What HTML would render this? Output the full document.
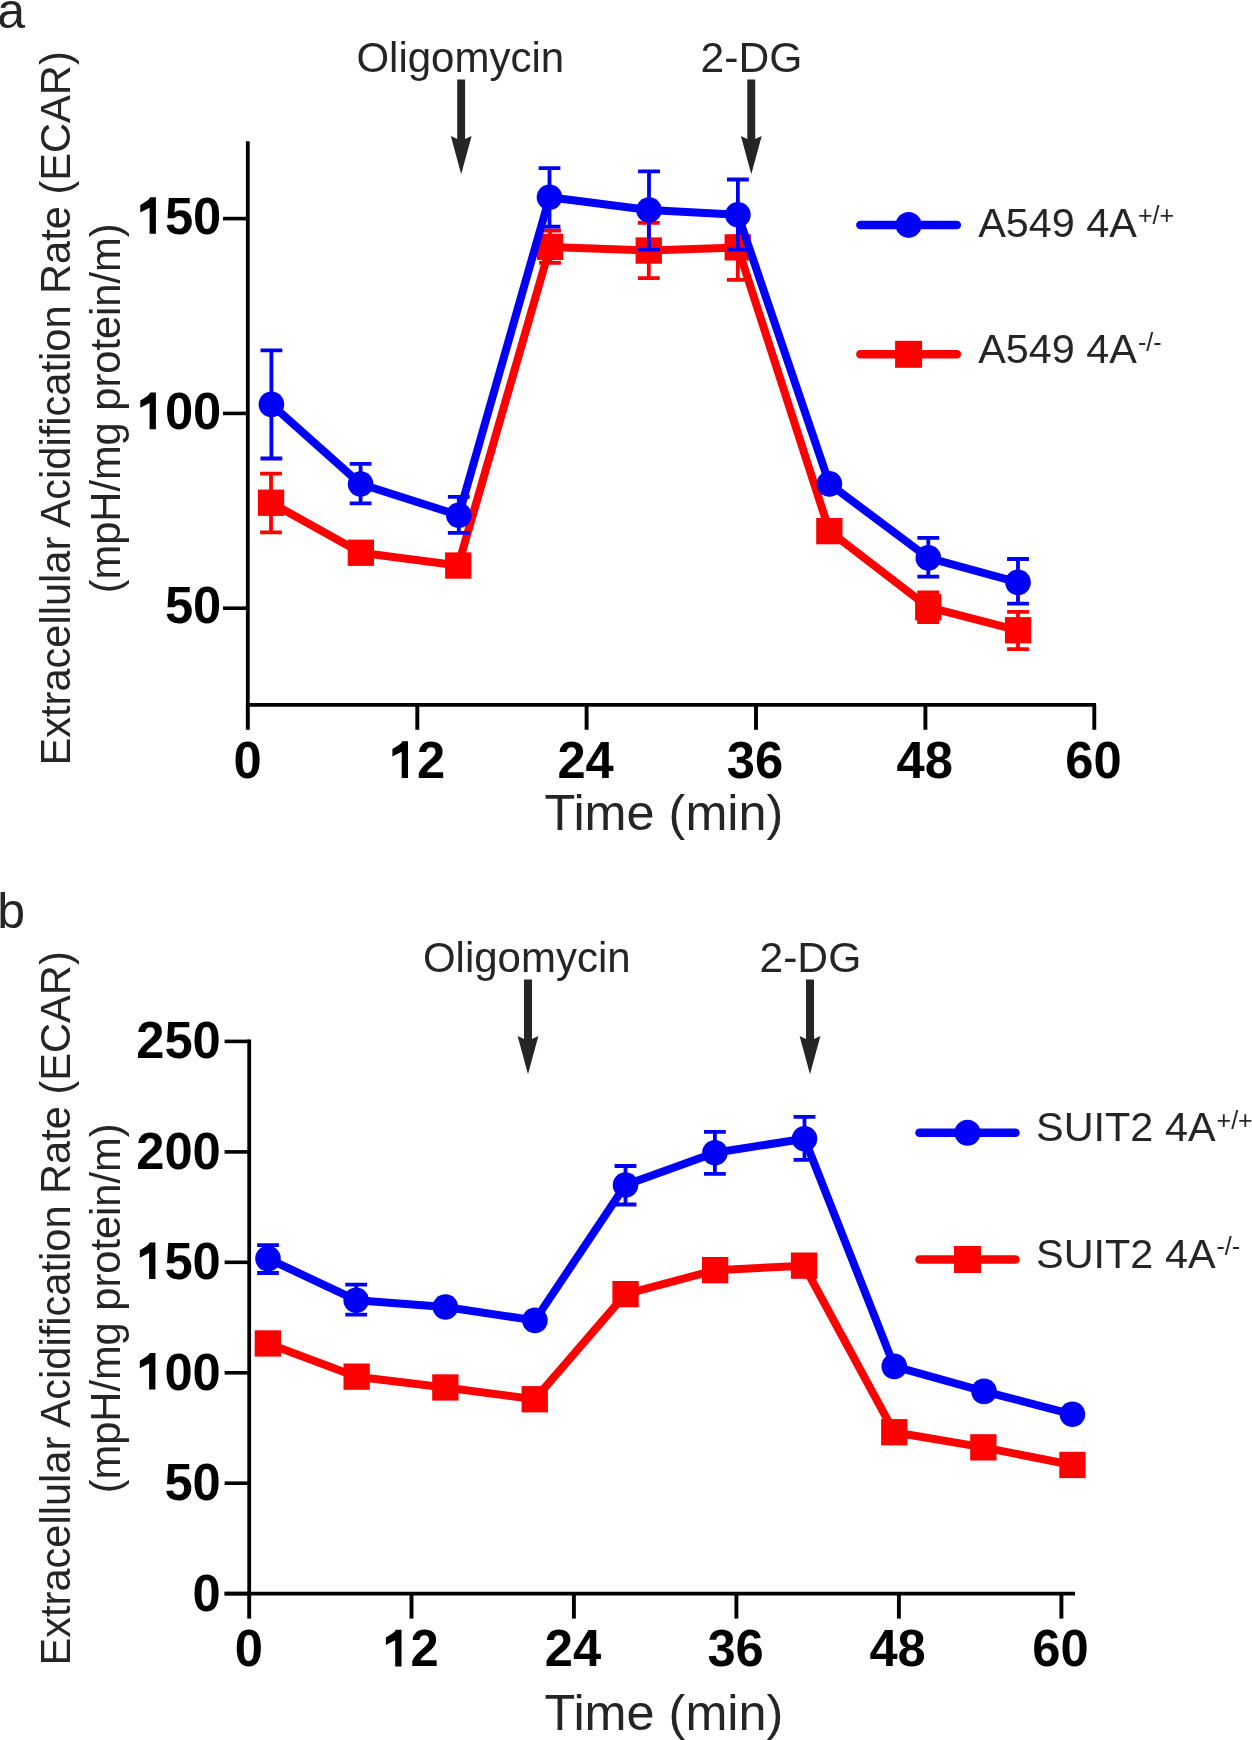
<!DOCTYPE html>
<html><head><meta charset="utf-8"><style>
html,body{margin:0;padding:0;background:#fff;}
svg{display:block;will-change:transform;}
text{font-family:"Liberation Sans", sans-serif;}
</style></head><body>
<svg width="1252" height="1740" viewBox="0 0 1252 1740">
<rect width="1252" height="1740" fill="#fff"/>
<text x="-2.8" y="27.9" font-size="50" fill="#262425">a</text>
<text transform="translate(69.9 408.4) rotate(-90)" font-size="41.6" fill="#262425" text-anchor="middle">Extracellular Acidification Rate (ECAR)</text>
<text transform="translate(119.8 408.4) rotate(-90)" font-size="41.6" fill="#262425" text-anchor="middle">(mpH/mg protein/m)</text>
<text x="356.4" y="71.8" font-size="42" fill="#262425">Oligomycin</text>
<text x="700.6" y="71.7" font-size="42.6" fill="#262425">2-DG</text>
<path d="M457.2 79.4 V138.9 L450.8 135.9 L461.2 174.2 L471.6 135.9 L465.1 138.9 V79.4 Z" fill="#262425"/>
<path d="M747.3 79.4 V138.9 L740.9 135.9 L751.3 174.2 L761.7 135.9 L755.2 138.9 V79.4 Z" fill="#262425"/>
<g stroke="#000" fill="none">
<path d="M247.8 141.2 V706.4" stroke-width="3.8"/>
<path d="M247.8 704.9 H1096" stroke-width="3.7"/>
<path d="M223 218.6 H247.8" stroke-width="3.6"/>
<path d="M223 413.4 H247.8" stroke-width="3.6"/>
<path d="M223 608.2 H247.8" stroke-width="3.6"/>
<path d="M247.8 704.9 V729.8" stroke-width="3.9"/>
<path d="M417.3 704.9 V729.8" stroke-width="3.9"/>
<path d="M586.6 704.9 V729.8" stroke-width="3.9"/>
<path d="M756 704.9 V729.8" stroke-width="3.9"/>
<path d="M925.4 704.9 V729.8" stroke-width="3.9"/>
<path d="M1094.3 704.9 V729.8" stroke-width="3.9"/>
</g>
<polygon points="155.9,233.8 155.9,197.2 150.3,197.2 148.9,199.2 146.8,201 140.3,205 140.3,212.4 149.6,207.7 149.6,233.8" fill="#000"/>
<text transform="translate(164.9 233.8) scale(1 1.02)" font-size="50.7" font-weight="bold" fill="#000">5</text>
<text transform="translate(193.1 233.8) scale(1 1.02)" font-size="50.7" font-weight="bold" fill="#000">0</text>
<polygon points="155.9,429.2 155.9,392.6 150.3,392.6 148.9,394.6 146.8,396.4 140.3,400.4 140.3,407.8 149.6,403.1 149.6,429.2" fill="#000"/>
<text transform="translate(164.9 429.2) scale(1 1.02)" font-size="50.7" font-weight="bold" fill="#000">0</text>
<text transform="translate(193.1 429.2) scale(1 1.02)" font-size="50.7" font-weight="bold" fill="#000">0</text>
<text transform="translate(164.9 622.8) scale(1 1.02)" font-size="50.7" font-weight="bold" fill="#000">5</text>
<text transform="translate(193.1 622.8) scale(1 1.02)" font-size="50.7" font-weight="bold" fill="#000">0</text>
<text transform="translate(233.5 777.9) scale(1 1.02)" font-size="50.7" font-weight="bold" fill="#000">0</text>
<polygon points="408,777.9 408,741.3 402.4,741.3 401,743.3 398.9,745.1 392.4,749.1 392.4,756.5 401.7,751.8 401.7,777.9" fill="#000"/>
<text transform="translate(417 777.9) scale(1 1.02)" font-size="50.7" font-weight="bold" fill="#000">2</text>
<text transform="translate(557.4 777.9) scale(1 1.02)" font-size="50.7" font-weight="bold" fill="#000">2</text>
<text transform="translate(585.6 777.9) scale(1 1.02)" font-size="50.7" font-weight="bold" fill="#000">4</text>
<text transform="translate(726.8 777.9) scale(1 1.02)" font-size="50.7" font-weight="bold" fill="#000">3</text>
<text transform="translate(755 777.9) scale(1 1.02)" font-size="50.7" font-weight="bold" fill="#000">6</text>
<text transform="translate(896.5 777.9) scale(1 1.02)" font-size="50.7" font-weight="bold" fill="#000">4</text>
<text transform="translate(924.7 777.9) scale(1 1.02)" font-size="50.7" font-weight="bold" fill="#000">8</text>
<text transform="translate(1065.2 777.9) scale(1 1.02)" font-size="50.7" font-weight="bold" fill="#000">6</text>
<text transform="translate(1093.4 777.9) scale(1 1.02)" font-size="50.7" font-weight="bold" fill="#000">0</text>
<text x="544.5" y="829.7" font-size="50.4" fill="#262425">Time (min)</text>
<path d="M271 473.7 V532.4 M260.1 473.7 H281.9 M260.1 532.4 H281.9" stroke="#ff0000" stroke-width="3.8" fill="none"/>
<path d="M550 230.5 V262.8 M539.1 230.5 H560.9 M539.1 262.8 H560.9" stroke="#ff0000" stroke-width="3.8" fill="none"/>
<path d="M648.8 222.9 V278.1 M637.9 222.9 H659.7 M637.9 278.1 H659.7" stroke="#ff0000" stroke-width="3.8" fill="none"/>
<path d="M737.8 215 V279.8 M726.9 215 H748.7 M726.9 279.8 H748.7" stroke="#ff0000" stroke-width="3.8" fill="none"/>
<path d="M928.2 592.4 V622 M917.3 592.4 H939.1 M917.3 622 H939.1" stroke="#ff0000" stroke-width="3.8" fill="none"/>
<path d="M1018 611.8 V649.1 M1007.1 611.8 H1028.9 M1007.1 649.1 H1028.9" stroke="#ff0000" stroke-width="3.8" fill="none"/>
<path d="M271 502.7 L360.8 552.7 L458.2 565.5 L550 247 L648.8 250.6 L737.8 247.4 L829.4 531.1 L928.2 607.2 L1018 630.3" stroke="#ff0000" stroke-width="8" fill="none" stroke-linejoin="round"/>
<rect x="257.9" y="489.6" width="26.3" height="26.3" fill="#ff0000"/>
<rect x="347.7" y="539.6" width="26.3" height="26.3" fill="#ff0000"/>
<rect x="445.1" y="552.4" width="26.3" height="26.3" fill="#ff0000"/>
<rect x="536.9" y="233.8" width="26.3" height="26.3" fill="#ff0000"/>
<rect x="635.6" y="237.4" width="26.3" height="26.3" fill="#ff0000"/>
<rect x="724.6" y="234.2" width="26.3" height="26.3" fill="#ff0000"/>
<rect x="816.2" y="518" width="26.3" height="26.3" fill="#ff0000"/>
<rect x="915.1" y="594.1" width="26.3" height="26.3" fill="#ff0000"/>
<rect x="1004.9" y="617.1" width="26.3" height="26.3" fill="#ff0000"/>
<path d="M271.4 350.3 V458.5 M260.5 350.3 H282.3 M260.5 458.5 H282.3" stroke="#0000fa" stroke-width="3.8" fill="none"/>
<path d="M360.6 463.8 V503.3 M349.7 463.8 H371.5 M349.7 503.3 H371.5" stroke="#0000fa" stroke-width="3.8" fill="none"/>
<path d="M458.8 496.8 V532.9 M447.9 496.8 H469.7 M447.9 532.9 H469.7" stroke="#0000fa" stroke-width="3.8" fill="none"/>
<path d="M549.5 168.2 V226.7 M538.6 168.2 H560.4 M538.6 226.7 H560.4" stroke="#0000fa" stroke-width="3.8" fill="none"/>
<path d="M649 171.4 V249.7 M638.1 171.4 H659.9 M638.1 249.7 H659.9" stroke="#0000fa" stroke-width="3.8" fill="none"/>
<path d="M737.9 179.5 V249.6 M727 179.5 H748.8 M727 249.6 H748.8" stroke="#0000fa" stroke-width="3.8" fill="none"/>
<path d="M928.3 537.9 V576.6 M917.4 537.9 H939.2 M917.4 576.6 H939.2" stroke="#0000fa" stroke-width="3.8" fill="none"/>
<path d="M1018 559 V603.6 M1007.1 559 H1028.9 M1007.1 603.6 H1028.9" stroke="#0000fa" stroke-width="3.8" fill="none"/>
<path d="M271.4 404.4 L360.6 484 L458.8 515.3 L549.5 197.3 L649 210 L737.9 214.7 L829.4 483.9 L928.3 557.9 L1018 582.4" stroke="#0000fa" stroke-width="8" fill="none" stroke-linejoin="round"/>
<circle cx="271.4" cy="404.4" r="12.8" fill="#0000fa"/>
<circle cx="360.6" cy="484" r="12.8" fill="#0000fa"/>
<circle cx="458.8" cy="515.3" r="12.8" fill="#0000fa"/>
<circle cx="549.5" cy="197.3" r="12.8" fill="#0000fa"/>
<circle cx="649" cy="210" r="12.8" fill="#0000fa"/>
<circle cx="737.9" cy="214.7" r="12.8" fill="#0000fa"/>
<circle cx="829.4" cy="483.9" r="12.8" fill="#0000fa"/>
<circle cx="928.3" cy="557.9" r="12.8" fill="#0000fa"/>
<circle cx="1018" cy="582.4" r="12.8" fill="#0000fa"/>
<path d="M860.4 224.9 H956.8" stroke="#0000fa" stroke-width="8.5" stroke-linecap="round"/>
<circle cx="908.6" cy="224.9" r="13" fill="#0000fa"/>
<path d="M860.4 354.3 H956.8" stroke="#ff0000" stroke-width="8.5" stroke-linecap="round"/>
<rect x="895.1" y="340.8" width="27" height="27" fill="#ff0000"/>
<text x="978.2" y="236.6" font-size="41.4" fill="#262425">A549 4A<tspan font-size="25" dx="1" dy="-12.5">+/+</tspan></text>
<text x="978.2" y="363.2" font-size="41.4" fill="#262425">A549 4A<tspan font-size="25" dx="1" dy="-12.5">-/-</tspan></text>
<text x="-2.8" y="927.9" font-size="50" fill="#262425">b</text>
<text transform="translate(69.9 1308.4) rotate(-90)" font-size="41.6" fill="#262425" text-anchor="middle">Extracellular Acidification Rate (ECAR)</text>
<text transform="translate(119.8 1308.4) rotate(-90)" font-size="41.6" fill="#262425" text-anchor="middle">(mpH/mg protein/m)</text>
<text x="422.9" y="971.8" font-size="42" fill="#262425">Oligomycin</text>
<text x="759.5" y="971.7" font-size="42.6" fill="#262425">2-DG</text>
<path d="M524 979.4 V1038.9 L517.6 1035.9 L528 1074.2 L538.4 1035.9 L532 1038.9 V979.4 Z" fill="#262425"/>
<path d="M806 979.4 V1038.9 L799.6 1035.9 L810 1074.2 L820.4 1035.9 L814 1038.9 V979.4 Z" fill="#262425"/>
<g stroke="#000" fill="none">
<path d="M249.2 1039.5 V1595.1" stroke-width="3.8"/>
<path d="M224.6 1593.6 H1075" stroke-width="3.7"/>
<path d="M224.6 1041.4 H249.2" stroke-width="3.6"/>
<path d="M224.6 1151.9 H249.2" stroke-width="3.6"/>
<path d="M224.6 1262.3 H249.2" stroke-width="3.6"/>
<path d="M224.6 1372.8 H249.2" stroke-width="3.6"/>
<path d="M224.6 1483.2 H249.2" stroke-width="3.6"/>
<path d="M224.6 1593.6 H249.2" stroke-width="3.6"/>
<path d="M249.2 1593.6 V1618.6" stroke-width="3.9"/>
<path d="M411.5 1593.6 V1618.6" stroke-width="3.9"/>
<path d="M573.9 1593.6 V1618.6" stroke-width="3.9"/>
<path d="M736.4 1593.6 V1618.6" stroke-width="3.9"/>
<path d="M898.9 1593.6 V1618.6" stroke-width="3.9"/>
<path d="M1061.4 1593.6 V1618.6" stroke-width="3.9"/>
</g>
<text transform="translate(136.2 1058) scale(1 1.02)" font-size="50.7" font-weight="bold" fill="#000">2</text>
<text transform="translate(164.4 1058) scale(1 1.02)" font-size="50.7" font-weight="bold" fill="#000">5</text>
<text transform="translate(192.6 1058) scale(1 1.02)" font-size="50.7" font-weight="bold" fill="#000">0</text>
<text transform="translate(136.2 1168.7) scale(1 1.02)" font-size="50.7" font-weight="bold" fill="#000">2</text>
<text transform="translate(164.4 1168.7) scale(1 1.02)" font-size="50.7" font-weight="bold" fill="#000">0</text>
<text transform="translate(192.6 1168.7) scale(1 1.02)" font-size="50.7" font-weight="bold" fill="#000">0</text>
<polygon points="155.4,1279.1 155.4,1242.5 149.8,1242.5 148.4,1244.5 146.3,1246.3 139.8,1250.3 139.8,1257.7 149.1,1253 149.1,1279.1" fill="#000"/>
<text transform="translate(164.4 1279.1) scale(1 1.02)" font-size="50.7" font-weight="bold" fill="#000">5</text>
<text transform="translate(192.6 1279.1) scale(1 1.02)" font-size="50.7" font-weight="bold" fill="#000">0</text>
<polygon points="155.4,1389.6 155.4,1353 149.8,1353 148.4,1355 146.3,1356.8 139.8,1360.8 139.8,1368.2 149.1,1363.5 149.1,1389.6" fill="#000"/>
<text transform="translate(164.4 1389.6) scale(1 1.02)" font-size="50.7" font-weight="bold" fill="#000">0</text>
<text transform="translate(192.6 1389.6) scale(1 1.02)" font-size="50.7" font-weight="bold" fill="#000">0</text>
<text transform="translate(164.4 1500.2) scale(1 1.02)" font-size="50.7" font-weight="bold" fill="#000">5</text>
<text transform="translate(192.6 1500.2) scale(1 1.02)" font-size="50.7" font-weight="bold" fill="#000">0</text>
<text transform="translate(192.6 1610.6) scale(1 1.02)" font-size="50.7" font-weight="bold" fill="#000">0</text>
<text transform="translate(234.7 1666.4) scale(1 1.02)" font-size="50.7" font-weight="bold" fill="#000">0</text>
<polygon points="401.5,1666.4 401.5,1629.8 395.9,1629.8 394.5,1631.8 392.4,1633.6 385.9,1637.6 385.9,1645 395.2,1640.3 395.2,1666.4" fill="#000"/>
<text transform="translate(410.5 1666.4) scale(1 1.02)" font-size="50.7" font-weight="bold" fill="#000">2</text>
<text transform="translate(544.7 1666.4) scale(1 1.02)" font-size="50.7" font-weight="bold" fill="#000">2</text>
<text transform="translate(572.9 1666.4) scale(1 1.02)" font-size="50.7" font-weight="bold" fill="#000">4</text>
<text transform="translate(707.4 1666.4) scale(1 1.02)" font-size="50.7" font-weight="bold" fill="#000">3</text>
<text transform="translate(735.6 1666.4) scale(1 1.02)" font-size="50.7" font-weight="bold" fill="#000">6</text>
<text transform="translate(869.4 1666.4) scale(1 1.02)" font-size="50.7" font-weight="bold" fill="#000">4</text>
<text transform="translate(897.6 1666.4) scale(1 1.02)" font-size="50.7" font-weight="bold" fill="#000">8</text>
<text transform="translate(1032.2 1666.4) scale(1 1.02)" font-size="50.7" font-weight="bold" fill="#000">6</text>
<text transform="translate(1060.4 1666.4) scale(1 1.02)" font-size="50.7" font-weight="bold" fill="#000">0</text>
<text x="544.5" y="1729.7" font-size="50.4" fill="#262425">Time (min)</text>
<path d="M267.8 1343.5 L356.6 1376.7 L445.4 1387.5 L534.7 1399.3 L625.5 1294.2 L715.1 1270.2 L804 1265.7 L894.3 1432.3 L983.4 1447.4 L1072.5 1465" stroke="#ff0000" stroke-width="8" fill="none" stroke-linejoin="round"/>
<rect x="254.7" y="1330.3" width="26.3" height="26.3" fill="#ff0000"/>
<rect x="343.5" y="1363.5" width="26.3" height="26.3" fill="#ff0000"/>
<rect x="432.2" y="1374.3" width="26.3" height="26.3" fill="#ff0000"/>
<rect x="521.6" y="1386.1" width="26.3" height="26.3" fill="#ff0000"/>
<rect x="612.4" y="1281" width="26.3" height="26.3" fill="#ff0000"/>
<rect x="702" y="1257" width="26.3" height="26.3" fill="#ff0000"/>
<rect x="790.9" y="1252.5" width="26.3" height="26.3" fill="#ff0000"/>
<rect x="881.1" y="1419.1" width="26.3" height="26.3" fill="#ff0000"/>
<rect x="970.2" y="1434.2" width="26.3" height="26.3" fill="#ff0000"/>
<rect x="1059.3" y="1451.8" width="26.3" height="26.3" fill="#ff0000"/>
<path d="M268 1245.2 V1273 M257.1 1245.2 H278.9 M257.1 1273 H278.9" stroke="#0000fa" stroke-width="3.8" fill="none"/>
<path d="M356.2 1284.6 V1314.7 M345.3 1284.6 H367.1 M345.3 1314.7 H367.1" stroke="#0000fa" stroke-width="3.8" fill="none"/>
<path d="M625.5 1166 V1204.5 M614.6 1166 H636.4 M614.6 1204.5 H636.4" stroke="#0000fa" stroke-width="3.8" fill="none"/>
<path d="M714.9 1131.9 V1173.9 M704 1131.9 H725.8 M704 1173.9 H725.8" stroke="#0000fa" stroke-width="3.8" fill="none"/>
<path d="M804.5 1116.8 V1159.9 M793.6 1116.8 H815.4 M793.6 1159.9 H815.4" stroke="#0000fa" stroke-width="3.8" fill="none"/>
<path d="M268 1258.6 L356.2 1300.2 L445.4 1307 L534.9 1320.4 L625.5 1185 L714.9 1152.7 L804.5 1138.7 L894.3 1366.4 L984 1391.4 L1072.4 1414.3" stroke="#0000fa" stroke-width="8" fill="none" stroke-linejoin="round"/>
<circle cx="268" cy="1258.6" r="12.8" fill="#0000fa"/>
<circle cx="356.2" cy="1300.2" r="12.8" fill="#0000fa"/>
<circle cx="445.4" cy="1307" r="12.8" fill="#0000fa"/>
<circle cx="534.9" cy="1320.4" r="12.8" fill="#0000fa"/>
<circle cx="625.5" cy="1185" r="12.8" fill="#0000fa"/>
<circle cx="714.9" cy="1152.7" r="12.8" fill="#0000fa"/>
<circle cx="804.5" cy="1138.7" r="12.8" fill="#0000fa"/>
<circle cx="894.3" cy="1366.4" r="12.8" fill="#0000fa"/>
<circle cx="984" cy="1391.4" r="12.8" fill="#0000fa"/>
<circle cx="1072.4" cy="1414.3" r="12.8" fill="#0000fa"/>
<path d="M919.5 1132.7 H1015.5" stroke="#0000fa" stroke-width="8.5" stroke-linecap="round"/>
<circle cx="967.5" cy="1132.7" r="13" fill="#0000fa"/>
<path d="M919.5 1259.5 H1015.5" stroke="#ff0000" stroke-width="8.5" stroke-linecap="round"/>
<rect x="954" y="1246" width="27" height="27" fill="#ff0000"/>
<text x="1036.1" y="1141.4" font-size="41.4" fill="#262425">SUIT2 4A<tspan font-size="25" dx="1" dy="-12.5">+/+</tspan></text>
<text x="1036.1" y="1267.7" font-size="41.4" fill="#262425">SUIT2 4A<tspan font-size="25" dx="1" dy="-12.5">-/-</tspan></text>
</svg>
</body></html>
